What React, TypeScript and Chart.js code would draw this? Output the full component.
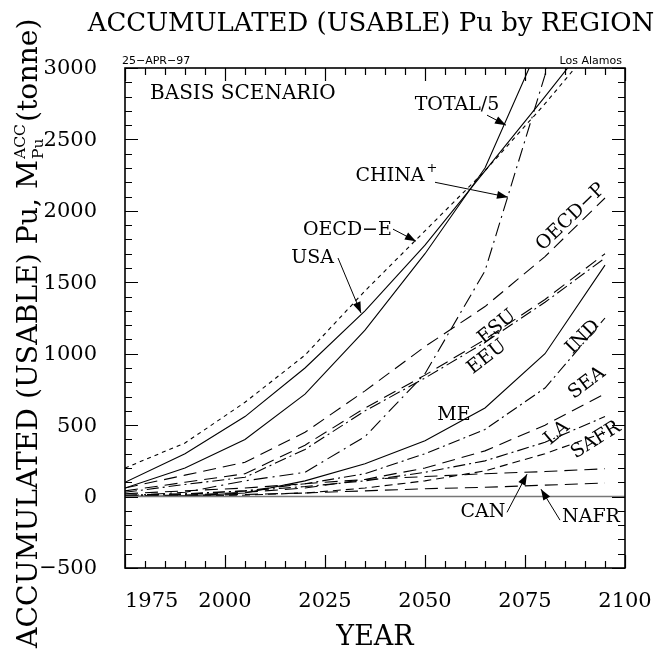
import { useEffect, useRef } from 'react';
import { Chart, registerables } from 'chart.js';
Chart.register(...registerables);

// ---- data (years and accumulated usable Pu, tonne) ----
const YEARS = [1975, 1990, 2005, 2020, 2035, 2050, 2065, 2080, 2095];
const OECD_E = [200, 375, 660, 990, 1440, 1860, 2280, 2750, 3250];
const USA = [100, 300, 560, 900, 1300, 1760, 2280, 2800, 3330];
const TOTAL_5 = [60, 200, 400, 717, 1165, 1700, 2300, 3250, 4400];
const CHINA = [5, 30, 110, 170, 420, 860, 1580, 2950, 5200];
const OECD_P = [60, 150, 240, 450, 740, 1050, 1330, 1680, 2090];
const ESU = [40, 100, 160, 360, 620, 850, 1100, 1380, 1700];
const EEU = [30, 85, 135, 330, 600, 830, 1080, 1360, 1670];
const ME = [0, 5, 25, 110, 230, 390, 620, 1000, 1620];
const IND = [5, 15, 40, 90, 160, 300, 470, 760, 1250];
const SEA = [5, 10, 30, 60, 120, 200, 320, 500, 720];
const LA = [10, 20, 40, 70, 110, 170, 250, 380, 560];
const SAFR = [0, 5, 10, 25, 60, 110, 180, 300, 450];
const CAN = [20, 40, 60, 90, 120, 140, 160, 175, 195];
const NAFR = [0, 5, 15, 25, 40, 55, 65, 80, 95];

const X_TICKS = [1975, 2000, 2025, 2050, 2075, 2100];
const Y_TICKS = [-500, 0, 500, 1000, 1500, 2000, 2500, 3000];

// text annotations: [text, year, value, angleDeg]
const LABELS: [string, number, number, number][] = [
  ['TOTAL/5', 2058, 2740, 0],
  ['OECD\u2212E', 2030.6, 1869, 0],
  ['USA', 2021.9, 1673, 0],
  ['OECD\u2212P', 2086.5, 1956, -44],
  ['ESU', 2068, 1186, -39],
  ['EEU', 2065.5, 976, -38],
  ['ME', 2057.25, 570, 0],
  ['IND', 2089.5, 1116, -45],
  ['SEA', 2090.5, 794, -37],
  ['LA', 2083, 444, -40],
  ['SAFR', 2092.75, 395, -32],
  ['CAN', 2064.5, -108, 0],
  ['NAFR', 2091.5, -143, 0],
];
// pointers: [fromYear, fromVal, toYear, toVal]
const ARROWS: [number, number, number, number][] = [
  [2065.5, 2670, 2070.25, 2600],
  [2052.5, 2200, 2070.75, 2096],
  [2042, 1872, 2047.75, 1788],
  [2028.25, 1670, 2034, 1285],
  [2070.5, -110, 2075.5, 157],
  [2083.75, -165, 2079, 52],
];

const SERIF = "'DejaVu Serif'";

function makeSeries(label: string, arr: number[], dash: number[]) {
  return {
    label,
    data: YEARS.map((x, i) => ({ x, y: arr[i] })),
    borderColor: '#000',
    borderWidth: 1.1,
    borderDash: dash,
    pointRadius: 0,
    fill: false,
    tension: 0,
  };
}

function arrowHead(ctx: CanvasRenderingContext2D, x1: number, y1: number, x2: number, y2: number) {
  ctx.beginPath();
  ctx.moveTo(x1, y1);
  ctx.lineTo(x2, y2);
  ctx.stroke();
  const a = Math.atan2(y2 - y1, x2 - x1);
  const L = 11, W = 4;
  ctx.beginPath();
  ctx.moveTo(x2, y2);
  ctx.lineTo(x2 - L * Math.cos(a) + W * Math.sin(a), y2 - L * Math.sin(a) - W * Math.cos(a));
  ctx.lineTo(x2 - L * Math.cos(a) - W * Math.sin(a), y2 - L * Math.sin(a) + W * Math.cos(a));
  ctx.closePath();
  ctx.fill();
}

const overlay = {
  id: 'overlay',
  afterDraw(chart: any) {
    const { ctx, chartArea: a } = chart;
    const xs = chart.scales.x, ys = chart.scales.y;
    ctx.save();
    ctx.fillStyle = '#000';
    ctx.strokeStyle = '#000';
    // frame
    ctx.lineWidth = 1.6;
    ctx.strokeRect(a.left, a.top, a.right - a.left, a.bottom - a.top);
    // ticks
    ctx.lineWidth = 1.2;
    ctx.beginPath();
    for (let v = 1975; v <= 2100; v += 5) {
      const px = Math.round(xs.getPixelForValue(v)) + 0.5;
      const len = v % 25 === 0 ? 13 : 7;
      ctx.moveTo(px, a.bottom); ctx.lineTo(px, a.bottom - len);
      ctx.moveTo(px, a.top); ctx.lineTo(px, a.top + len);
    }
    for (let v = -500; v <= 3000; v += 100) {
      const py = Math.round(ys.getPixelForValue(v)) + 0.5;
      const len = v % 500 === 0 ? 13 : 7;
      ctx.moveTo(a.left, py); ctx.lineTo(a.left + len, py);
      ctx.moveTo(a.right, py); ctx.lineTo(a.right - len, py);
    }
    ctx.stroke();

    // tick labels
    ctx.font = `21px ${SERIF}`;
    ctx.textBaseline = 'alphabetic';
    X_TICKS.forEach((v) => {
      const px = xs.getPixelForValue(v);
      if (v === X_TICKS[0]) { ctx.textAlign = 'left'; ctx.fillText(String(v), px, 607); }
      else { ctx.textAlign = 'center'; ctx.fillText(String(v), px, 607); }
    });
    ctx.textAlign = 'right';
    ctx.textBaseline = 'middle';
    Y_TICKS.forEach((v) => {
      const py = ys.getPixelForValue(v);
      ctx.fillText(v < 0 ? '\u2212' + Math.abs(v) : String(v), 97, py + 1);
    });

    // title
    ctx.textBaseline = 'alphabetic';
    ctx.textAlign = 'center';
    const title = 'ACCUMULATED (USABLE) Pu by REGION';
    ctx.font = `100px ${SERIF}`;
    const tfs = 100 * 567 / ctx.measureText(title).width;
    ctx.font = `${tfs}px ${SERIF}`;
    ctx.fillText(title, 371, 31);

    // x title
    ctx.font = `27px ${SERIF}`;
    ctx.fillText('YEAR', 375, 645);

    // small header texts
    ctx.font = "11px 'DejaVu Sans'";
    ctx.textAlign = 'left';
    ctx.fillText('25\u2212APR\u221297', 122, 64);
    ctx.textAlign = 'right';
    ctx.fillText('Los Alamos', 622, 64);

    // y title (rotated)
    ctx.save();
    ctx.translate(37, 648);
    ctx.rotate(-Math.PI / 2);
    const p1 = 'ACCUMULATED (USABLE) Pu, M';
    const p3 = '(tonne)';
    const measure = (fs: number) => {
      ctx.font = `${fs}px ${SERIF}`;
      const w1 = ctx.measureText(p1).width;
      const w3 = ctx.measureText(p3).width;
      ctx.font = `${fs * 0.55}px ${SERIF}`;
      const w2 = Math.max(ctx.measureText('ACC').width, ctx.measureText('Pu').width);
      return { w1, w2, w3 };
    };
    const m0 = measure(100);
    const yfs = 100 * 628 / (m0.w1 + m0.w2 + m0.w3 + 4);
    const m = measure(yfs);
    ctx.textAlign = 'left';
    ctx.font = `${yfs}px ${SERIF}`;
    ctx.fillText(p1, 0, 0);
    ctx.font = `${yfs * 0.55}px ${SERIF}`;
    ctx.fillText('ACC', m.w1 + 1, -yfs * 0.42);
    ctx.fillText('Pu', m.w1 + 1, yfs * 0.2);
    ctx.font = `${yfs}px ${SERIF}`;
    ctx.fillText(p3, m.w1 + m.w2 + 3, 0);
    ctx.restore();

    // annotations
    ctx.font = `20px ${SERIF}`;
    ctx.textAlign = 'left';
    ctx.textBaseline = 'middle';
    ctx.fillText('BASIS SCENARIO', xs.getPixelForValue(1981.25), ys.getPixelForValue(2821));

    ctx.font = `19px ${SERIF}`;
    ctx.textAlign = 'center';
    LABELS.forEach(([t, yr, val, ang]) => {
      ctx.save();
      ctx.translate(xs.getPixelForValue(yr), ys.getPixelForValue(val));
      ctx.rotate((ang * Math.PI) / 180);
      ctx.fillText(t, 0, 0);
      ctx.restore();
    });
    // CHINA with superscript +
    const cx = xs.getPixelForValue(2041.25), cy = ys.getPixelForValue(2244);
    ctx.fillText('CHINA', cx, cy);
    const cw = ctx.measureText('CHINA').width;
    ctx.font = `13px ${SERIF}`;
    ctx.textAlign = 'left';
    ctx.fillText('+', cx + cw / 2 + 2, cy - 7);

    ctx.lineWidth = 1;
    ARROWS.forEach(([x1, y1, x2, y2]) => {
      arrowHead(ctx, xs.getPixelForValue(x1), ys.getPixelForValue(y1), xs.getPixelForValue(x2), ys.getPixelForValue(y2));
    });
    ctx.restore();
  },
};

export default function App() {
  const ref = useRef<HTMLCanvasElement>(null);
  useEffect(() => {
    if (!ref.current) return;
    const dashLong = [13, 7];
    const dashDot = [12, 4, 2, 4];
    const chart = new Chart(ref.current, {
      type: 'line',
      data: {
        datasets: [
          {
            label: 'zero',
            data: [{ x: 1975, y: 0 }, { x: 2100, y: 0 }],
            borderColor: '#777',
            borderWidth: 1.5,
            pointRadius: 0,
            fill: false,
          } as any,
          makeSeries('OECD-E', OECD_E, [4, 4]),
          makeSeries('USA', USA, []),
          makeSeries('TOTAL/5', TOTAL_5, []),
          makeSeries('CHINA+', CHINA, [14, 5, 2, 5]),
          makeSeries('OECD-P', OECD_P, dashLong),
          makeSeries('ESU', ESU, dashLong),
          makeSeries('EEU', EEU, dashDot),
          makeSeries('ME', ME, []),
          makeSeries('IND', IND, dashDot),
          makeSeries('SEA', SEA, dashLong),
          makeSeries('LA', LA, dashDot),
          makeSeries('SAFR', SAFR, [8, 5]),
          makeSeries('CAN', CAN, dashLong),
          makeSeries('NAFR', NAFR, dashLong),
        ],
      },
      options: {
        animation: false,
        responsive: false,
        devicePixelRatio: 1,
        layout: { padding: { left: 125, top: 68, right: 38, bottom: 85 } },
        scales: {
          x: { type: 'linear', min: 1975, max: 2100, display: false },
          y: { type: 'linear', min: -500, max: 3000, display: false },
        },
        plugins: { legend: { display: false }, tooltip: { enabled: false } },
      },
      plugins: [overlay],
    });
    return () => chart.destroy();
  }, []);
  return (
    <div style={{ position: 'fixed', left: 0, top: 0, width: 663, height: 653, background: '#fff' }}>
      <canvas ref={ref} width={663} height={653} style={{ width: 663, height: 653 }} />
    </div>
  );
}
